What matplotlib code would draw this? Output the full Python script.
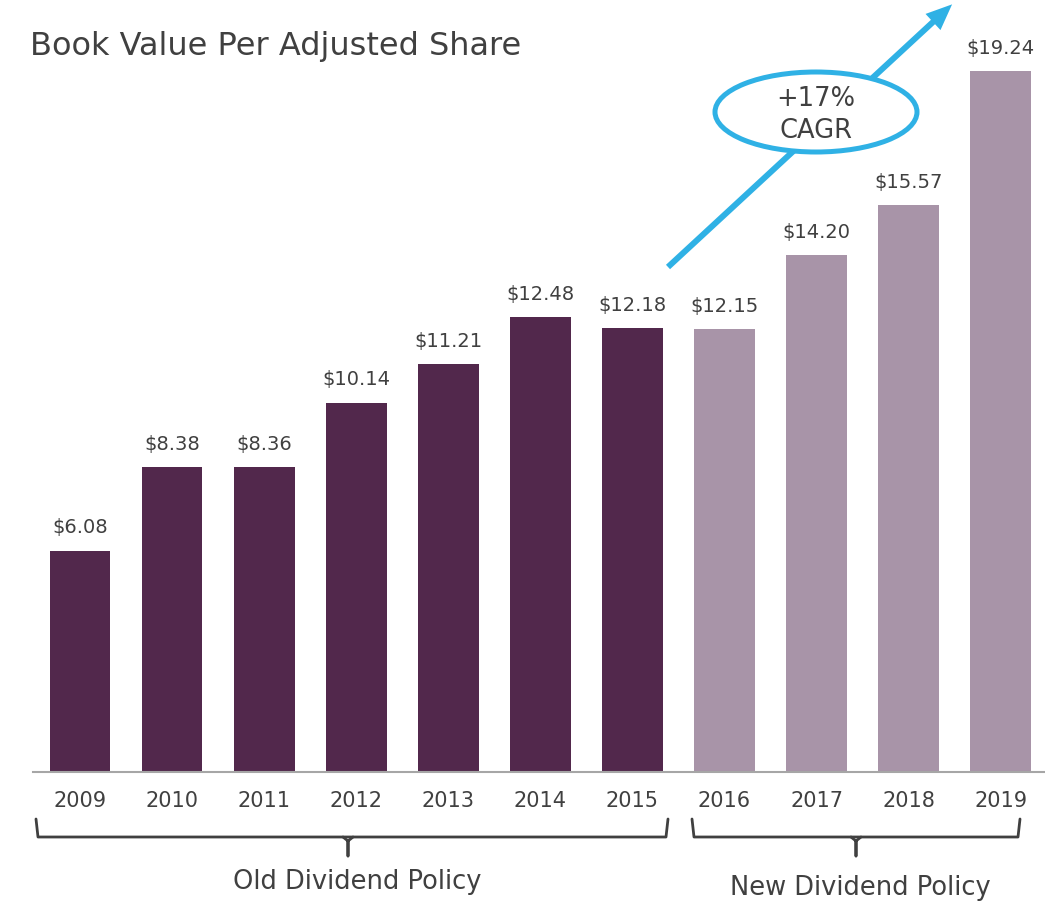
import matplotlib
matplotlib.use("Agg")
import matplotlib.pyplot as plt
from matplotlib.patches import Ellipse, FancyArrow

plt.rcParams["font.family"] = ["DejaVu Sans"]

years = ["2009", "2010", "2011", "2012", "2013", "2014", "2015", "2016", "2017", "2018", "2019"]
values = [6.08, 8.38, 8.36, 10.14, 11.21, 12.48, 12.18, 12.15, 14.20, 15.57, 19.24]
policy = ["old"] * 7 + ["new"] * 4
labels = ["$6.08", "$8.38", "$8.36", "$10.14", "$11.21", "$12.48", "$12.18",
          "$12.15", "$14.20", "$15.57", "$19.24"]

dark = "#52284c"
light = "#a894a8"
textc = "#404040"
blue = "#2fb1e5"

W, H = 1045, 903
fig = plt.figure(figsize=(W / 100, H / 100), dpi=100)

# main bar axes, baseline at y=773 px
ax = fig.add_axes([33 / W, (H - 773) / H, (W - 33) / W, 773 / H])
x = list(range(len(years)))
colors = [dark if p == "old" else light for p in policy]
ax.bar(x, values, width=0.66, color=colors)
ax.set_xlim(-0.51, 10.48)
ax.set_ylim(0, 773 / 36.43)

for xi, v, lab in zip(x, values, labels):
    ax.annotate(lab, (xi, v), xytext=(0, 17), textcoords="offset points",
                ha="center", va="center", fontsize=14, color=textc)

ax.set_xticks(x)
ax.set_xticklabels(years, fontsize=15, color=textc)
ax.tick_params(axis="x", length=0, pad=13)
ax.set_yticks([])
for s in ["top", "right", "left"]:
    ax.spines[s].set_visible(False)
ax.spines["bottom"].set_color("#a6a6a6")
ax.spines["bottom"].set_linewidth(1.5)

# overlay in pixel coordinates for brackets, arrow and ellipse
ov = fig.add_axes([0, 0, 1, 1])
ov.set_xlim(0, W)
ov.set_ylim(H, 0)
ov.axis("off")


def bracket(x0, x1, xm, y_top=820, y_mid=838, y_bot=857):
    ov.plot([x0, x0 + 2, x1 - 2, x1], [y_top, y_mid, y_mid, y_top],
            color="#404040", lw=2, solid_joinstyle="round", solid_capstyle="round")
    ov.plot([xm - 5, xm, xm, xm, xm + 5], [y_mid, y_mid + 4, y_bot, y_mid + 4, y_mid],
            color="#404040", lw=2, solid_capstyle="round")


bracket(36, 668, 348)
bracket(692, 1020, 856)

ov.text(357, 882, "Old Dividend Policy", ha="center", va="center", fontsize=18.5, color=textc)
ov.text(860, 888, "New Dividend Policy", ha="center", va="center", fontsize=18.5, color=textc)

ov.text(30, 47, "Book Value Per Adjusted Share", ha="left", va="center",
        fontsize=23, color=textc)

ov.add_patch(FancyArrow(668, 268, 265, -245, width=6, head_width=22, head_length=26,
                        length_includes_head=False, color=blue, lw=0))
ov.add_patch(Ellipse((816, 113), 202, 80, facecolor="white", edgecolor=blue, lw=3.6))
ov.text(816, 99, "+17%", ha="center", va="center", fontsize=18.5, color=textc)
ov.text(816, 131, "CAGR", ha="center", va="center", fontsize=18.5, color=textc)

fig.savefig("out.png", dpi=100)
